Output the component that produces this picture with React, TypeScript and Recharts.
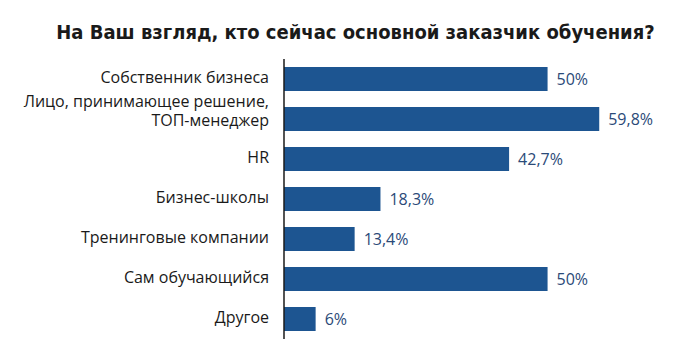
import React from 'react';
import { BarChart, Bar, XAxis, YAxis, LabelList } from 'recharts';

const categories = [
  'Собственник бизнеса',
  'Лицо, принимающее решение,\nТОП-менеджер',
  'HR',
  'Бизнес-школы',
  'Тренинговые компании',
  'Сам обучающийся',
  'Другое',
];
const values = [50, 59.8, 42.7, 18.3, 13.4, 50, 6];
const title = 'На Ваш взгляд, кто сейчас основной заказчик обучения?';

const data = categories.map((name, i) => ({ name, value: values[i] }));

const BAR_COLOR = '#1d5591';
const LABEL_COLOR = '#2b4a78';
const TEXT_FONT = '"Open Sans", "DejaVu Sans", sans-serif';

const CategoryTick = (props: any) => {
  const { x, y, payload } = props;
  const lines: string[] = String(payload.value).split('\n');
  const startOffset = lines.length === 2 ? -18 : -2;
  return (
    <text
      x={x}
      y={y + startOffset}
      textAnchor="end"
      fill="#1a1a1a"
      fontSize={16}
      fontFamily={TEXT_FONT}
    >
      {lines.map((line, i) => (
        <tspan key={i} x={x} dy={i === 0 ? '0.35em' : 19}>
          {line}
        </tspan>
      ))}
    </text>
  );
};

const fmt = (v: any) => String(v).replace('.', ',') + '%';

export default function App() {
  return (
    <div style={{ position: 'fixed', left: 0, top: 0, width: 700, height: 362, background: '#fff' }}>
      <div
        style={{
          position: 'absolute',
          left: 0,
          top: 18,
          width: 711,
          textAlign: 'center',
          fontFamily: '"DejaVu Sans Condensed", "DejaVu Sans", sans-serif',
          fontWeight: 'bold',
          fontSize: 20,
          lineHeight: '28px',
          color: '#1a1a1a',
        }}
      >
        {title}
      </div>
      <BarChart
        width={700}
        height={362}
        data={data}
        layout="vertical"
        margin={{ top: 59, right: 47, bottom: 23, left: 0 }}
        barCategoryGap={0}
      >
        <XAxis type="number" domain={[0, 70]} hide />
        <YAxis
          type="category"
          dataKey="name"
          width={284}
          tickLine={false}
          tickSize={6}
          tickMargin={9}
          axisLine={{ stroke: '#1a1a1a', strokeWidth: 1.5 }}
          tick={<CategoryTick />}
          interval={0}
        />
        <Bar dataKey="value" fill={BAR_COLOR} barSize={24} isAnimationActive={false}>
          <LabelList
            dataKey="value"
            position="right"
            offset={9}
            formatter={fmt}
            fill={LABEL_COLOR}
            fontSize={16}
            fontFamily={TEXT_FONT}
          />
        </Bar>
      </BarChart>
    </div>
  );
}
